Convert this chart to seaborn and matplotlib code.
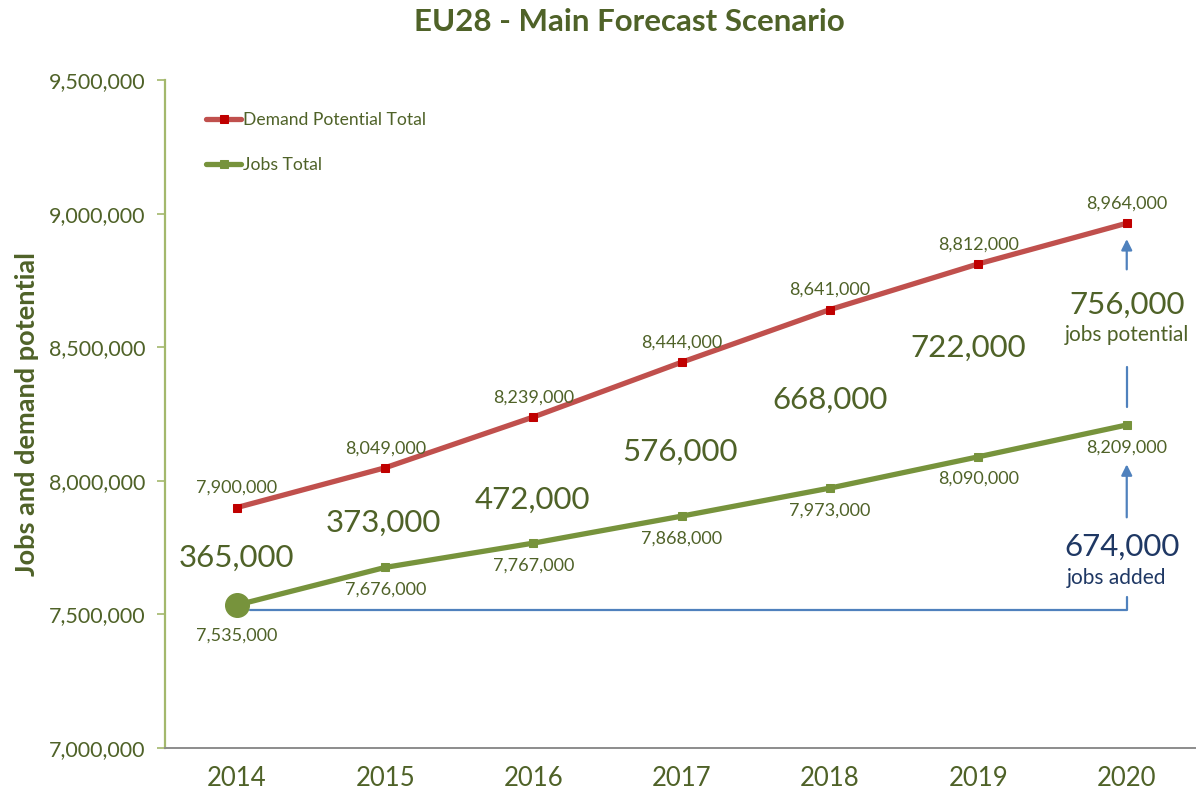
import pandas as pd
import matplotlib.pyplot as plt
import seaborn as sns

# Chart data
years = [2014, 2015, 2016, 2017, 2018, 2019, 2020]
demand_total = [7900000, 8049000, 8239000, 8444000, 8641000, 8812000, 8964000]
jobs_total = [7535000, 7676000, 7767000, 7868000, 7973000, 8090000, 8209000]
gap_labels = ['365,000', '373,000', '472,000', '576,000', '668,000', '722,000', '756,000']
y_ticks = [7000000, 7500000, 8000000, 8500000, 9000000, 9500000]
jobs_added = '674,000'

# colours
txt_green = '#4F6228'
red_line = '#C0504D'
red_mark = '#C00000'
green_line = '#77933C'
blue = '#4F81BD'
navy = '#1F3864'

sns.set_theme(style='white')
plt.rcParams['font.family'] = ['Lato', 'DejaVu Sans']

df = pd.DataFrame({'year': years, 'demand': demand_total, 'jobs': jobs_total})

fig = plt.figure(figsize=(11.97, 7.93), dpi=100)
ax = fig.add_axes([0.1378, 0.0567, 0.8605, 0.8424])

sns.lineplot(ax=ax, data=df, x='year', y='demand', color=red_line, linewidth=3.8,
             marker='s', markersize=6, markerfacecolor=red_mark, markeredgecolor=red_mark,
             label='Demand Potential Total', zorder=3)
sns.lineplot(ax=ax, data=df, x='year', y='jobs', color=green_line, linewidth=3.8,
             marker='s', markersize=6, markerfacecolor=green_line, markeredgecolor=green_line,
             label='Jobs Total', zorder=3)
# large start point
ax.plot(years[0], jobs_total[0], 'o', color=green_line, markersize=17, zorder=4)

# value labels
for x, y in zip(years, demand_total):
    ax.annotate(f'{y:,}', (x, y), xytext=(0, 14), textcoords='offset points',
                ha='center', va='center', fontsize=13, color=txt_green)
for i, (x, y) in enumerate(zip(years, jobs_total)):
    off = -22 if i == 0 else -16
    ax.annotate(f'{y:,}', (x, y), xytext=(0, off), textcoords='offset points',
                ha='center', va='center', fontsize=13, color=txt_green)

# gap labels
gap_x = [2014, 2014.99, 2015.99, 2016.99, 2018.0, 2018.93, 2020.0]
gap_y = [7.711e6, 7.842e6, 7.928e6, 8.108e6, 8.302e6, 8.497e6, 8.658e6]
for x, y, s in zip(gap_x, gap_y, gap_labels):
    ax.text(x, y, s, ha='center', va='center', fontsize=22.5, color=txt_green)
ax.text(2020.0, 8.545e6, 'jobs potential', ha='center', va='center', fontsize=15, color=txt_green)

ax.text(2019.97, 7.753e6, jobs_added, ha='center', va='center', fontsize=22.5, color=navy)
ax.text(2019.93, 7.636e6, 'jobs added', ha='center', va='center', fontsize=15, color=navy)

# blue bracket and arrows
ax.plot([2014.09, 2020, 2020], [7.517e6, 7.517e6, 7.565e6], color=blue, linewidth=1.6, zorder=2)
ax.annotate('', xy=(2020, 8.072e6), xytext=(2020, 7.853e6),
            arrowprops=dict(arrowstyle='-|>', color=blue, lw=1.6, mutation_scale=16))
ax.plot([2020, 2020], [8.276e6, 8.426e6], color=blue, linewidth=1.6)
ax.annotate('', xy=(2020, 8.915e6), xytext=(2020, 8.781e6),
            arrowprops=dict(arrowstyle='-|>', color=blue, lw=1.6, mutation_scale=16))

# axes
ax.set_xlim(2013.515, 2020.46)
ax.set_ylim(7000000, 9500000)
ax.set_xticks(years)
ax.set_xticklabels([str(y) for y in years], fontsize=18.5, color=txt_green)
ax.set_yticks(y_ticks)
ax.set_yticklabels([f'{v:,}' for v in y_ticks], fontsize=15.5, color=txt_green)
ax.tick_params(axis='y', which='major', left=True, length=6, width=1.2, color='#A3B86C', pad=8)
ax.tick_params(axis='x', bottom=False, pad=7)
ax.set_xlabel('')
ax.set_ylabel('Jobs and demand potential', fontsize=19.5, fontweight='bold', color=txt_green)
ax.yaxis.set_label_coords(-0.122, 0.5)

for s in ['top', 'right']:
    ax.spines[s].set_visible(False)
ax.spines['left'].set_color('#A3B86C')
ax.spines['left'].set_linewidth(1.6)
ax.spines['bottom'].set_color('#8C8C8C')
ax.spines['bottom'].set_linewidth(1.4)

leg = ax.legend(loc='upper left', bbox_to_anchor=(0.025, 0.975), frameon=False, fontsize=12.6,
                handlelength=2.0, handletextpad=0.1, labelspacing=1.65)
for t in leg.get_texts():
    t.set_color(txt_green)

fig.text(0.526, 0.972, 'EU28 - Main Forecast Scenario', ha='center', va='center',
         fontsize=22.5, fontweight='bold', color=txt_green)

fig.savefig('out.png', dpi=100, facecolor='white')
